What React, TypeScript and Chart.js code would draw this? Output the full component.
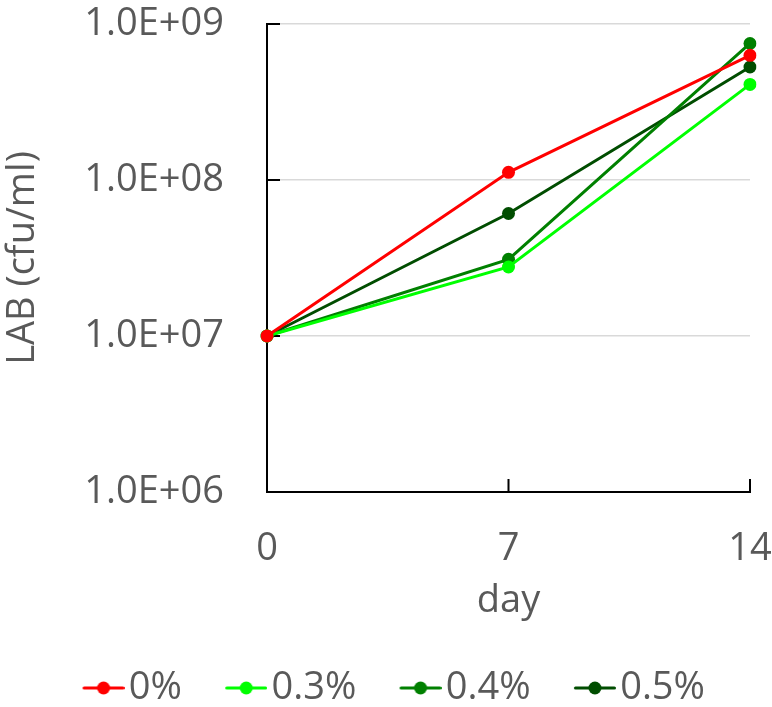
import React, { useEffect, useRef } from "react";
import { Chart, registerables } from "chart.js";

Chart.register(...registerables);

const days = ["0", "7", "14"];
const seriesNames = ["0%", "0.3%", "0.4%", "0.5%"];
const values0 = [1.0e7, 1.12e8, 6.3e8];
const values03 = [1.0e7, 2.77e7, 4.1e8];
const values04 = [1.0e7, 3.1e7, 7.5e8];
const values05 = [1.0e7, 6.1e7, 5.3e8];
const yTicks = [1e6, 1e7, 1e8, 1e9];
const colors = ["#ff0000", "#00ff00", "#008000", "#004d00"];

const FONT = "'Open Sans', sans-serif";
const TEXT = "#595959";
const FS = 38;
const BOXW = 25.5;
const MARKW = BOXW + 29;

function legendMarker(color: string): HTMLCanvasElement {
  const c = document.createElement("canvas");
  c.width = Math.round(MARKW);
  c.height = 14;
  const w = c.width;
  const ctx = c.getContext("2d")!;
  ctx.strokeStyle = color;
  ctx.lineWidth = 3;
  ctx.lineCap = "round";
  ctx.beginPath();
  ctx.moveTo(w - 40.5, 7);
  ctx.lineTo(w - 1.5, 7);
  ctx.stroke();
  ctx.fillStyle = color;
  ctx.beginPath();
  ctx.arc(w - 21, 7, 6.5, 0, Math.PI * 2);
  ctx.fill();
  return c;
}

const insideTicks = {
  id: "insideTicks",
  beforeDatasetsDraw(chart: any) {
    const { ctx, chartArea, scales } = chart;
    const len = 13;
    ctx.save();
    ctx.strokeStyle = "#000";
    ctx.lineWidth = 2;
    ctx.beginPath();
    for (const v of yTicks) {
      const y = scales.y.getPixelForValue(v);
      ctx.moveTo(chartArea.left, y);
      ctx.lineTo(chartArea.left + len, y);
    }
    days.forEach((_, i) => {
      const x = scales.x.getPixelForValue(i);
      ctx.moveTo(x, chartArea.bottom);
      ctx.lineTo(x, chartArea.bottom - len);
    });
    ctx.stroke();
    ctx.restore();
  },
};

export default function App() {
  const ref = useRef<HTMLCanvasElement>(null);
  useEffect(() => {
    const all = [values0, values03, values04, values05];
    const chart = new Chart(ref.current!, {
      type: "line",
      data: {
        labels: days,
        datasets: all.map((d, i) => ({
          label: seriesNames[i],
          data: d,
          borderColor: colors[i],
          backgroundColor: colors[i],
          borderWidth: 3,
          pointRadius: 6.5,
          pointBorderWidth: 0,
          pointBackgroundColor: colors[i],
          tension: 0,
        })),
      },
      plugins: [insideTicks],
      options: {
        animation: false,
        responsive: false,
        devicePixelRatio: 1,
        layout: { padding: { left: 0, right: 22, top: 24, bottom: 0 } },
        plugins: {
          tooltip: { enabled: false },
          legend: {
            position: "bottom",
            align: "end",
            maxHeight: 83,
            labels: {
              usePointStyle: true,
              pointStyleWidth: BOXW,
              boxHeight: 14,
              padding: 45,
              color: TEXT,
              font: { family: FONT, size: FS },
              generateLabels: (ch: any) =>
                ch.data.datasets.map((ds: any, i: number) => ({
                  text: ds.label,
                  fillStyle: colors[i],
                  strokeStyle: colors[i],
                  lineWidth: 0,
                  pointStyle: legendMarker(colors[i]),
                  fontColor: TEXT,
                  datasetIndex: i,
                  hidden: false,
                })),
            },
          },
        },
        scales: {
          x: {
            type: "category",
            offset: false,
            afterFit: (s: any) => {
              s.height = 132;
            },
            grid: {
              display: true,
              color: "rgba(0,0,0,0)",
              drawTicks: true,
              tickLength: 34,
              tickColor: "rgba(0,0,0,0)",
            },
            border: { display: true, color: "#000", width: 2 },
            ticks: {
              color: TEXT,
              font: { family: FONT, size: FS },
              padding: 0,
              maxRotation: 0,
            },
            title: {
              display: true,
              text: "day",
              color: TEXT,
              font: { family: FONT, size: FS },
              padding: { top: 0, bottom: 0 },
            },
          },
          y: {
            type: "logarithmic",
            min: 1e6,
            max: 1e9,
            afterBuildTicks: (s: any) => {
              s.ticks = yTicks.map((v) => ({ value: v }));
            },
            afterFit: (s: any) => {
              s.width = 267;
            },
            grid: {
              color: (c: any) => (c.tick && c.tick.value === 1e6 ? "rgba(0,0,0,0)" : "#d9d9d9"),
              lineWidth: 1.5,
              drawTicks: true,
              tickLength: 43,
              tickColor: "rgba(0,0,0,0)",
            },
            border: { display: true, color: "#000", width: 2 },
            ticks: {
              color: TEXT,
              font: { family: FONT, size: FS },
              padding: 0,
              callback: (v: any) => {
                const e = Math.round(Math.log10(Number(v)));
                return "1.0E+" + String(e).padStart(2, "0");
              },
            },
            title: {
              display: true,
              text: "LAB (cfu/ml)",
              color: TEXT,
              font: { family: FONT, size: FS },
              padding: { top: 0, bottom: 0 },
            },
          },
        },
      },
    });
    return () => chart.destroy();
  }, []);
  return (
    <div style={{ position: "fixed", left: 0, top: 0, width: 772, height: 707, background: "#fff" }}>
      <canvas ref={ref} width={772} height={707} style={{ display: "block" }} />
    </div>
  );
}
